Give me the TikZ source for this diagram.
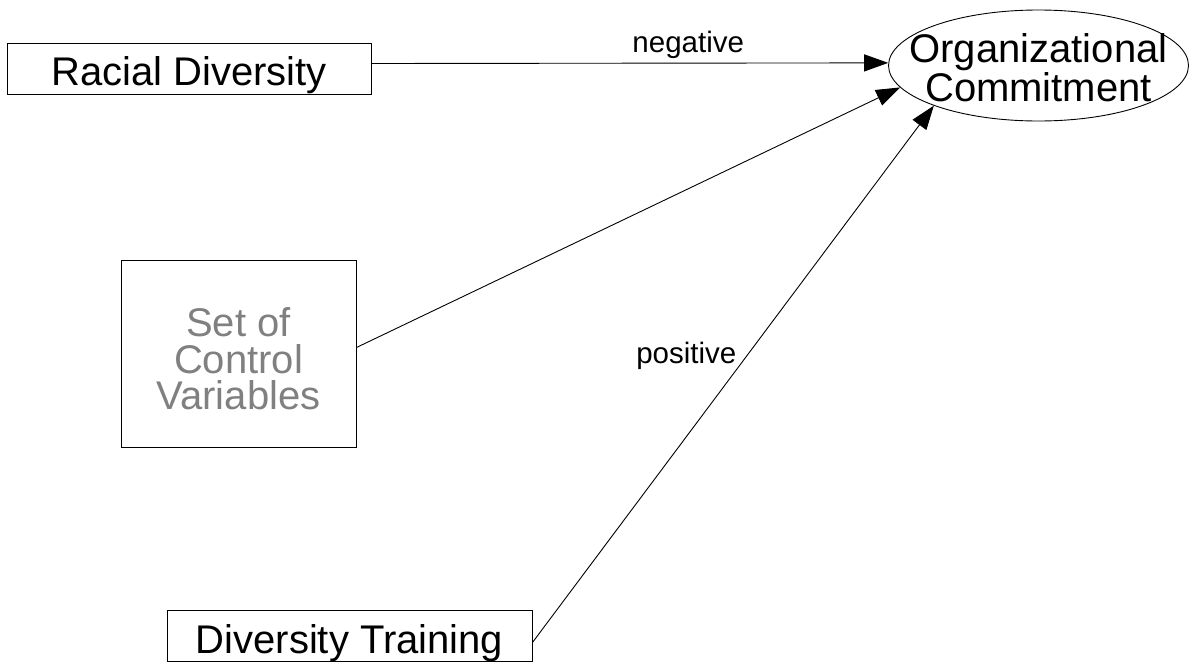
\documentclass[tikz,border=0pt]{standalone}
\usepackage{fontspec}
\setmainfont{Liberation Sans}
\usepackage{xcolor}
\usetikzlibrary{shapes.geometric, positioning, arrows.meta}
\definecolor{ctrlgray}{HTML}{808080}

\begin{document}
\begin{tikzpicture}[x=1pt, y=-1pt, line width=0.9pt, >={Triangle[length=24pt,width=17pt]},
    var/.style={draw, rectangle, inner sep=0pt, text depth=0pt, font=\fontsize{40}{36.5}\selectfont},
    outcome/.style={draw, ellipse, inner xsep=-23pt, inner ysep=0pt, minimum width=300pt, minimum height=111pt, align=center, font=\fontsize{40}{36}\selectfont},
    lbl/.style={inner sep=0pt, font=\fontsize{29.5}{32}\selectfont}]
    \useasboundingbox (0,0) rectangle (1190,664);

    \node[var, minimum width=364pt, minimum height=51pt, text height=33pt] (racial) at (189,68.5) {Racial Diversity};
    \node[var, minimum width=235pt, minimum height=187pt, text height=112pt, align=center, text=ctrlgray] (control) at (238.5,353.5) {Set of\\Control\\Variables};
    \node[var, minimum width=365pt, minimum height=51pt, text height=35pt] (training) at (349.5,635.5) {Diversity Training};
    \node[outcome, text height=71pt, text depth=0pt] (commit) at (1038.5,65.5) {Organizational\\Commitment};

    \draw[->] ([yshift=5pt]racial.east) -- node[lbl, pos=0.613, above=4pt] {negative} (commit.179);
    \draw[->] ([yshift=6pt]control.east) -- (commit.189);
    \draw[->] ([yshift=-7pt]training.east) -- node[lbl, pos=0.519, anchor=base east, xshift=-4pt] {positive} (commit.201);
\end{tikzpicture}
\end{document}
